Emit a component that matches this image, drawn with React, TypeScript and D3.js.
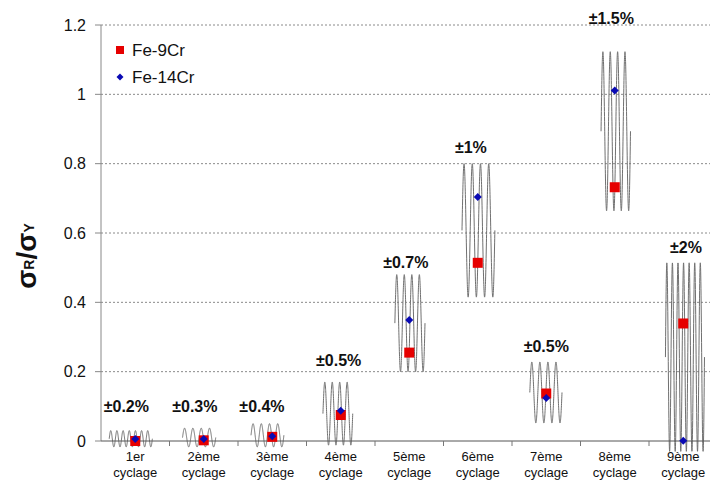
import React from 'react';
import * as d3 from 'd3';

const categories = ['1er', '2ème', '3ème', '4ème', '5ème', '6ème', '7ème', '8ème', '9ème'];
const fe9Cr = [0.0, 0.002, 0.012, 0.075, 0.255, 0.514, 0.137, 0.732, 0.339];
const fe14Cr = [0.006, 0.006, 0.014, 0.087, 0.349, 0.704, 0.124, 1.011, 0.001];
const amplitudeLabels = ['±0.2%', '±0.3%', '±0.4%', '±0.5%', '±0.7%', '±1%', '±0.5%', '±1.5%', '±2%'];
const labelLevel = [0.084, 0.084, 0.084, 0.217, 0.5, 0.831, 0.257, 1.203, 0.543];
// loading-signal decoration per cycle: min / max value and number of periods
const waveMin = [-0.017, -0.017, -0.017, -0.012, 0.2, 0.415, 0.052, 0.664, -0.03];
const waveMax = [0.03, 0.037, 0.05, 0.17, 0.48, 0.8, 0.228, 1.123, 0.514];
const wavePeriods = [7, 4, 4, 4, 4, 4, 4, 4, 7];
const waveStart = [0.12, 0.19, 0.19, 0.24, 0.29, 0.27, 0.26, 0.3, 0.24];
const waveEnd = [0.75, 0.675, 0.67, 0.675, 0.73, 0.75, 0.73, 0.73, 0.81];
const yTicks = [0, 0.2, 0.4, 0.6, 0.8, 1, 1.2];
const yTickLabels = ['0', '0.2', '0.4', '0.6', '0.8', '1', '1.2'];
const seriesNames = ['Fe-9Cr', 'Fe-14Cr'];

const W = 710;
const H = 481;
const FONT = '"Liberation Sans", Arial, sans-serif';

export default function App() {
  const left = 101;
  const x = d3.scaleBand<string>().domain(categories).range([left, left + 9 * 68.5]).padding(0);
  const y = d3.scaleLinear().domain([0, 1.2]).range([441, 25]);
  const bw = x.bandwidth();

  const waves = categories.map((c, i) => {
    const x0 = (x(c) as number) + waveStart[i] * bw;
    const x1 = (x(c) as number) + waveEnd[i] * bw;
    const mid = (waveMin[i] + waveMax[i]) / 2;
    const amp = (waveMax[i] - waveMin[i]) / 2;
    const n = 400;
    const pts: [number, number][] = d3.range(n + 1).map((k) => {
      const t = k / n;
      return [x0 + t * (x1 - x0), mid + amp * Math.sin(2 * Math.PI * wavePeriods[i] * t)];
    });
    const line = d3.line<[number, number]>().x((d) => d[0]).y((d) => y(d[1]));
    return line(pts) as string;
  });

  const diamondPath = (r: number) => `M0,${-r}L${r},0L0,${r}L${-r},0Z`;

  return (
    <svg width={W} height={H} style={{ position: 'absolute', left: 0, top: 0, background: '#fff' }} fontFamily={FONT}>
      <rect x={0} y={0} width={W} height={H} fill="#fff" />
      {/* gridlines */}
      {yTicks.filter((t) => t > 0).map((t) => (
        <line key={t} x1={left} x2={W} y1={y(t)} y2={y(t)} stroke="#8a8a8a" strokeWidth={1} strokeDasharray="2,2" />
      ))}
      {/* y axis */}
      <line x1={left} x2={left} y1={y(1.2)} y2={y(0)} stroke="#888" strokeWidth={1} />
      {yTicks.map((t, i) => (
        <g key={t}>
          <line x1={left - 6} x2={left} y1={y(t)} y2={y(t)} stroke="#888" />
          <text x={86} y={y(t)} dy="0.36em" textAnchor="end" fontSize={16} fill="#111">{yTickLabels[i]}</text>
        </g>
      ))}
      {/* y title */}
      <text transform={`translate(36,256) rotate(-90)`} textAnchor="middle" fontWeight="bold" fill="#111">
        <tspan fontSize={28}>σ</tspan>
        <tspan fontSize={14} dy={-2}>R</tspan>
        <tspan fontSize={28} dy={2}>/σ</tspan>
        <tspan fontSize={14} dy={-2}>Y</tspan>
      </text>
      {/* waves */}
      {waves.map((d, i) => (
        <path key={i} d={d} fill="none" stroke="#707070" strokeWidth={1} />
      ))}
      {/* x axis */}
      <line x1={left} x2={W} y1={y(0)} y2={y(0)} stroke="#555" strokeWidth={1} />
      {categories.map((c, i) => (
        <line key={'t' + i} x1={(x(c) as number) + bw} x2={(x(c) as number) + bw} y1={y(0)} y2={y(0) + 5} stroke="#777" />
      ))}
      {categories.map((c) => (
        <text key={'l' + c} x={(x(c) as number) + bw / 2} y={461} textAnchor="middle" fontSize={13} fill="#111">
          <tspan x={(x(c) as number) + bw / 2}>{c}</tspan>
          <tspan x={(x(c) as number) + bw / 2} dy={16}>cyclage</tspan>
        </text>
      ))}
      {/* amplitude labels */}
      {categories.map((c, i) => (
        <text key={'a' + i} x={(x(c) as number) + bw * ([0.37, 0.37, 0.35, 0.47, 0.45, 0.4, 0.5, 0.45, 0.54][i])} y={y(labelLevel[i])} textAnchor="middle" fontSize={16} fontWeight="bold" fill="#111">
          {amplitudeLabels[i]}
        </text>
      ))}
      {/* markers */}
      {categories.map((c, i) => (
        <rect key={'r' + i} x={(x(c) as number) + bw / 2 - 5} y={y(fe9Cr[i]) - 5} width={10} height={10} fill="#e60000" />
      ))}
      {categories.map((c, i) => (
        <path key={'b' + i} d={diamondPath(4)} transform={`translate(${(x(c) as number) + bw / 2},${y(fe14Cr[i])})`} fill="#0a0ab4" />
      ))}
      {/* legend */}
      <rect x={116} y={46} width={8} height={8} fill="#e60000" />
      <text x={132} y={56} fontSize={17} fill="#111">{seriesNames[0]}</text>
      <path d={diamondPath(3.5)} transform="translate(120,77)" fill="#0a0ab4" />
      <text x={132} y={83} fontSize={17} fill="#111">{seriesNames[1]}</text>
    </svg>
  );
}
